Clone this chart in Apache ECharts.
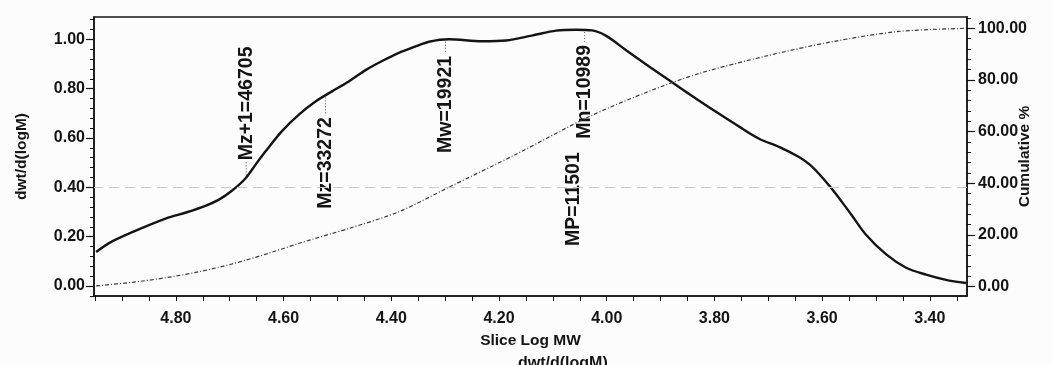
<!DOCTYPE html>
<html>
<head>
<meta charset="utf-8">
<script src="https://cdn.jsdelivr.net/npm/echarts@6/dist/echarts.min.js"></script>
<style>
html, body { margin: 0; padding: 0; background: #fcfcfc; }
#chart { width: 1052px; height: 365px; }
</style>
</head>
<body>
<div id="chart"></div>
<script>
// slice log MW (x) and dwt/d(logM) (left axis)
var mainX = [4.948, 4.924, 4.881, 4.818, 4.781, 4.744, 4.720, 4.696, 4.670, 4.651, 4.633, 4.603,
    4.571, 4.540, 4.510, 4.479, 4.447, 4.417, 4.386, 4.354, 4.330, 4.293, 4.232, 4.187, 4.139,
    4.094, 4.057, 4.027, 4.001, 3.964, 3.922, 3.884, 3.829, 3.792, 3.754, 3.717, 3.680, 3.643,
    3.624, 3.606, 3.582, 3.563, 3.545, 3.519, 3.481, 3.444, 3.407, 3.370, 3.333];
var mainY = [0.138, 0.174, 0.218, 0.274, 0.298, 0.326, 0.350, 0.386, 0.438, 0.495, 0.547, 0.628,
    0.696, 0.749, 0.789, 0.829, 0.876, 0.912, 0.945, 0.972, 0.990, 1.000, 0.992, 0.995, 1.015,
    1.035, 1.039, 1.036, 1.014, 0.956, 0.891, 0.834, 0.752, 0.699, 0.646, 0.597, 0.564, 0.523,
    0.494, 0.455, 0.394, 0.340, 0.287, 0.209, 0.128, 0.074, 0.046, 0.025, 0.012];

// cumulative % (right axis)
var cumX = [4.948, 4.881, 4.818, 4.757, 4.696, 4.633, 4.571, 4.510, 4.479, 4.386, 4.293, 4.168,
    4.033, 3.922, 3.829, 3.704, 3.582, 3.458, 3.333];
var cumY = [0.3, 1.7, 3.5, 5.8, 8.8, 12.6, 16.8, 20.6, 22.5, 29.0, 38.5, 51.3,
    65.8, 75.6, 82.5, 89.3, 94.8, 98.8, 100.0];

// molecular weight averages
var markerName = ['Mz+1=46705', 'Mz=33272', 'Mw=19921', 'Mn=10989', 'MP=11501'];
var markerMW = [46705, 33272, 19921, 10989, 11501];
var markerLabelY = [0.740, 0.499, 0.736, 0.787, 0.352];

// axes
var xMin = 3.331, xMax = 4.952;
var xLabelValues = [3.4, 3.6, 3.8, 4.0, 4.2, 4.4, 4.6, 4.8];
var xTickValues = [3.35, 3.40, 3.45, 3.50, 3.55, 3.60, 3.65, 3.70, 3.75, 3.80, 3.85, 3.90, 3.95,
    4.00, 4.05, 4.10, 4.15, 4.20, 4.25, 4.30, 4.35, 4.40, 4.45, 4.50, 4.55, 4.60, 4.65, 4.70,
    4.75, 4.80, 4.85, 4.90, 4.95];
var leftMin = -0.0405, leftMax = 1.0904;
var leftTicks = [0, 0.2, 0.4, 0.6, 0.8, 1.0];
var rightMin = -3.6, rightMax = 104.4;
var rightTicks = [0, 20, 40, 60, 80, 100];

var FONT = '"Liberation Sans", Arial, sans-serif';
var INK = '#141414';
var markerFont = 'bold 19.5px ' + FONT;

function minorBetween(majors, step, lo, hi) {
    var out = [];
    var first = Math.ceil(lo / step);
    for (var k = first; k * step <= hi; k++) {
        var v = +(k * step).toFixed(4);
        if (majors.indexOf(v) < 0) out.push(v);
    }
    return out;
}
var leftMinor = minorBetween(leftTicks, 0.04, leftMin, leftMax);
var rightMinor = minorBetween(rightTicks, 4, rightMin, rightMax);

function interp(xs, ys, x) {
    for (var i = 0; i < xs.length - 1; i++) {
        if ((xs[i] - x) * (xs[i + 1] - x) <= 0) {
            var t = (x - xs[i]) / (xs[i + 1] - xs[i]);
            return ys[i] + t * (ys[i + 1] - ys[i]);
        }
    }
    return ys[ys.length - 1];
}

var measureCtx = document.createElement('canvas').getContext('2d');
function textWidth(s, font) {
    measureCtx.font = font;
    return measureCtx.measureText(s).width;
}

function zip(a, b) {
    return a.map(function (v, i) { return [v, b[i]]; });
}

var markerData = markerMW.map(function (mw, i) {
    var lx = Math.log10(mw);
    return [lx, markerLabelY[i], interp(mainX, mainY, lx)];
});

function renderMarker(params, api) {
    var i = params.dataIndex;
    var p = api.coord([api.value(0), api.value(1)]);
    var c = api.coord([api.value(0), api.value(2)]);
    var half = textWidth(markerName[i], markerFont) / 2;
    var children = [{
        type: 'text',
        x: p[0],
        y: p[1],
        rotation: Math.PI / 2,
        style: {
            text: markerName[i], x: 0, y: 0,
            align: 'center', verticalAlign: 'middle',
            font: markerFont, fill: INK
        }
    }];
    var top = p[1] - half, bottom = p[1] + half, y1, y2;
    if (c[1] < top) { y1 = c[1] + 2; y2 = top - 2; }
    else if (c[1] > bottom) { y1 = bottom + 2; y2 = c[1] - 2; }
    if (y1 !== undefined && y2 - y1 < 40) {
        children.push({
            type: 'line',
            shape: { x1: p[0], y1: y1, x2: p[0], y2: y2 },
            style: { stroke: '#555', lineWidth: 1, lineDash: [1, 2] }
        });
    }
    return { type: 'group', children: children };
}

var labelStyle = { fontFamily: FONT, fontWeight: 'bold', fontSize: 16, color: INK };
var nameStyle = { fontFamily: FONT, fontWeight: 'bold', fontSize: 15.5, color: INK };
var fmt2 = function (v) { return v.toFixed(2); };

var chart = echarts.init(document.getElementById('chart'));
chart.setOption({
    animation: false,
    backgroundColor: '#fcfcfc',
    title: {
        text: 'dwt/d(logM)',
        left: 518, top: 356, padding: 0,
        textStyle: { fontFamily: FONT, fontWeight: 'bold', fontSize: 16, color: INK }
    },
    grid: {
        left: 94, right: 85, top: 17, bottom: 69,
        show: true, borderColor: INK, borderWidth: 1.5,
        outerBoundsMode: 'none'
    },
    xAxis: {
        type: 'value', inverse: true, min: xMin, max: xMax,
        name: 'Slice Log MW', nameLocation: 'middle', nameGap: 37,
        nameMoveOverlap: false,
        nameTextStyle: nameStyle,
        axisLine: { show: true, onZero: false, lineStyle: { color: INK, width: 1.5 } },
        axisTick: { show: true, length: 5, customValues: xTickValues, lineStyle: { color: INK, width: 1 } },
        axisLabel: Object.assign({ customValues: xLabelValues, formatter: fmt2, margin: 15 }, labelStyle),
        splitLine: { show: false }
    },
    yAxis: [{
        type: 'value', position: 'left', min: leftMin, max: leftMax,
        name: 'dwt/d(logM)', nameLocation: 'middle', nameRotate: 90, nameGap: 64,
        nameMoveOverlap: false,
        nameTextStyle: nameStyle,
        axisLine: { show: true, onZero: false, lineStyle: { color: INK, width: 1.5 } },
        axisTick: { show: true, length: 8, customValues: leftTicks, lineStyle: { color: INK, width: 1.2 } },
        axisLabel: Object.assign({ customValues: leftTicks, formatter: fmt2, margin: 9 }, labelStyle),
        splitLine: { show: false }
    }, {
        type: 'value', position: 'right', min: rightMin, max: rightMax,
        name: 'Cumulative %', nameLocation: 'middle', nameRotate: 90, nameGap: 50,
        nameMoveOverlap: false,
        nameTextStyle: nameStyle,
        axisLine: { show: true, onZero: false, lineStyle: { color: INK, width: 1.5 } },
        axisTick: { show: true, length: 8, customValues: rightTicks, lineStyle: { color: INK, width: 1.2 } },
        axisLabel: Object.assign({ customValues: rightTicks, formatter: fmt2, margin: 11 }, labelStyle),
        splitLine: { show: false }
    }, {
        type: 'value', position: 'left', min: leftMin, max: leftMax,
        axisLine: { show: false },
        axisTick: { show: true, length: 4, customValues: leftMinor, lineStyle: { color: INK, width: 1 } },
        axisLabel: { show: false },
        splitLine: { show: false }
    }, {
        type: 'value', position: 'right', min: rightMin, max: rightMax,
        axisLine: { show: false },
        axisTick: { show: true, length: 4, customValues: rightMinor, lineStyle: { color: INK, width: 1 } },
        axisLabel: { show: false },
        splitLine: { show: false }
    }],
    series: [{
        name: 'dwt/d(logM)',
        type: 'line',
        yAxisIndex: 0,
        data: zip(mainX, mainY),
        smooth: 0.3,
        symbol: 'none',
        lineStyle: { color: INK, width: 2.4 },
        markLine: {
            silent: true, symbol: 'none', label: { show: false },
            lineStyle: { color: '#c8c8c8', width: 1, type: [10, 6] },
            data: [{ yAxis: 0.4 }]
        }
    }, {
        name: 'Cumulative %',
        type: 'line',
        yAxisIndex: 1,
        data: zip(cumX, cumY),
        smooth: 0.3,
        symbol: 'none',
        lineStyle: { color: '#3a3a3a', width: 1.2, type: [4, 2, 1, 2] }
    }, {
        type: 'custom',
        yAxisIndex: 0,
        data: markerData,
        renderItem: renderMarker,
        silent: true
    }]
});
</script>
</body>
</html>
